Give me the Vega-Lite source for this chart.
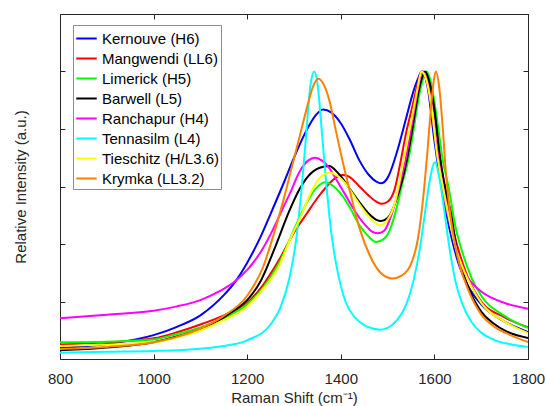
{
  "$schema": "https://vega.github.io/schema/vega-lite/v6.json",
  "width": 468,
  "height": 345,
  "autosize": "none",
  "padding": {"left": 60, "top": 14, "right": 18, "bottom": 47},
  "background": "white",
  "config": {
    "view": {"stroke": null},
    "font": "Liberation Sans",
    "axis": {
      "grid": false,
      "domainColor": "#262626",
      "tickColor": "#262626",
      "labelColor": "#262626",
      "titleColor": "#262626",
      "labelFont": "Liberation Sans",
      "titleFont": "Liberation Sans",
      "labelFontSize": 15,
      "titleFontSize": 15,
      "titleFontWeight": "normal",
      "tickSize": -5,
      "domainWidth": 1,
      "tickWidth": 1
    }
  },
  "data": {
    "values": [
      {"s": "Kernouve (H6)", "x": 800, "y": 0.038},
      {"s": "Kernouve (H6)", "x": 900, "y": 0.052},
      {"s": "Kernouve (H6)", "x": 1000, "y": 0.083},
      {"s": "Kernouve (H6)", "x": 1050, "y": 0.112},
      {"s": "Kernouve (H6)", "x": 1100, "y": 0.152},
      {"s": "Kernouve (H6)", "x": 1150, "y": 0.222},
      {"s": "Kernouve (H6)", "x": 1175, "y": 0.27},
      {"s": "Kernouve (H6)", "x": 1200, "y": 0.335},
      {"s": "Kernouve (H6)", "x": 1230, "y": 0.43},
      {"s": "Kernouve (H6)", "x": 1250, "y": 0.505},
      {"s": "Kernouve (H6)", "x": 1280, "y": 0.62},
      {"s": "Kernouve (H6)", "x": 1300, "y": 0.7},
      {"s": "Kernouve (H6)", "x": 1325, "y": 0.79},
      {"s": "Kernouve (H6)", "x": 1345, "y": 0.845},
      {"s": "Kernouve (H6)", "x": 1362, "y": 0.868},
      {"s": "Kernouve (H6)", "x": 1380, "y": 0.857},
      {"s": "Kernouve (H6)", "x": 1400, "y": 0.82},
      {"s": "Kernouve (H6)", "x": 1420, "y": 0.76},
      {"s": "Kernouve (H6)", "x": 1440, "y": 0.69},
      {"s": "Kernouve (H6)", "x": 1460, "y": 0.64},
      {"s": "Kernouve (H6)", "x": 1475, "y": 0.618},
      {"s": "Kernouve (H6)", "x": 1486, "y": 0.611},
      {"s": "Kernouve (H6)", "x": 1500, "y": 0.63},
      {"s": "Kernouve (H6)", "x": 1520, "y": 0.72},
      {"s": "Kernouve (H6)", "x": 1540, "y": 0.84},
      {"s": "Kernouve (H6)", "x": 1555, "y": 0.93},
      {"s": "Kernouve (H6)", "x": 1565, "y": 0.975},
      {"s": "Kernouve (H6)", "x": 1573, "y": 1.0},
      {"s": "Kernouve (H6)", "x": 1585, "y": 0.95},
      {"s": "Kernouve (H6)", "x": 1600, "y": 0.76},
      {"s": "Kernouve (H6)", "x": 1615, "y": 0.6},
      {"s": "Kernouve (H6)", "x": 1630, "y": 0.47},
      {"s": "Kernouve (H6)", "x": 1650, "y": 0.34},
      {"s": "Kernouve (H6)", "x": 1670, "y": 0.26},
      {"s": "Kernouve (H6)", "x": 1700, "y": 0.19},
      {"s": "Kernouve (H6)", "x": 1750, "y": 0.13},
      {"s": "Kernouve (H6)", "x": 1800, "y": 0.094},

      {"s": "Mangwendi (LL6)", "x": 800, "y": 0.05},
      {"s": "Mangwendi (LL6)", "x": 900, "y": 0.058},
      {"s": "Mangwendi (LL6)", "x": 1000, "y": 0.072},
      {"s": "Mangwendi (LL6)", "x": 1050, "y": 0.093},
      {"s": "Mangwendi (LL6)", "x": 1100, "y": 0.12},
      {"s": "Mangwendi (LL6)", "x": 1150, "y": 0.152},
      {"s": "Mangwendi (LL6)", "x": 1200, "y": 0.195},
      {"s": "Mangwendi (LL6)", "x": 1235, "y": 0.26},
      {"s": "Mangwendi (LL6)", "x": 1270, "y": 0.35},
      {"s": "Mangwendi (LL6)", "x": 1300, "y": 0.44},
      {"s": "Mangwendi (LL6)", "x": 1327, "y": 0.505},
      {"s": "Mangwendi (LL6)", "x": 1350, "y": 0.56},
      {"s": "Mangwendi (LL6)", "x": 1370, "y": 0.6},
      {"s": "Mangwendi (LL6)", "x": 1385, "y": 0.625},
      {"s": "Mangwendi (LL6)", "x": 1405, "y": 0.64},
      {"s": "Mangwendi (LL6)", "x": 1420, "y": 0.632},
      {"s": "Mangwendi (LL6)", "x": 1440, "y": 0.6},
      {"s": "Mangwendi (LL6)", "x": 1460, "y": 0.568},
      {"s": "Mangwendi (LL6)", "x": 1475, "y": 0.548},
      {"s": "Mangwendi (LL6)", "x": 1487, "y": 0.54},
      {"s": "Mangwendi (LL6)", "x": 1500, "y": 0.547},
      {"s": "Mangwendi (LL6)", "x": 1515, "y": 0.59},
      {"s": "Mangwendi (LL6)", "x": 1527, "y": 0.68},
      {"s": "Mangwendi (LL6)", "x": 1540, "y": 0.79},
      {"s": "Mangwendi (LL6)", "x": 1551, "y": 0.865},
      {"s": "Mangwendi (LL6)", "x": 1560, "y": 0.93},
      {"s": "Mangwendi (LL6)", "x": 1568, "y": 0.98},
      {"s": "Mangwendi (LL6)", "x": 1576, "y": 1.0},
      {"s": "Mangwendi (LL6)", "x": 1588, "y": 0.96},
      {"s": "Mangwendi (LL6)", "x": 1600, "y": 0.86},
      {"s": "Mangwendi (LL6)", "x": 1612, "y": 0.7},
      {"s": "Mangwendi (LL6)", "x": 1625, "y": 0.57},
      {"s": "Mangwendi (LL6)", "x": 1640, "y": 0.45},
      {"s": "Mangwendi (LL6)", "x": 1655, "y": 0.36},
      {"s": "Mangwendi (LL6)", "x": 1670, "y": 0.29},
      {"s": "Mangwendi (LL6)", "x": 1700, "y": 0.2},
      {"s": "Mangwendi (LL6)", "x": 1750, "y": 0.145},
      {"s": "Mangwendi (LL6)", "x": 1800, "y": 0.11},

      {"s": "Limerick (H5)", "x": 800, "y": 0.058},
      {"s": "Limerick (H5)", "x": 900, "y": 0.06},
      {"s": "Limerick (H5)", "x": 1000, "y": 0.068},
      {"s": "Limerick (H5)", "x": 1050, "y": 0.087},
      {"s": "Limerick (H5)", "x": 1100, "y": 0.11},
      {"s": "Limerick (H5)", "x": 1150, "y": 0.142},
      {"s": "Limerick (H5)", "x": 1200, "y": 0.19},
      {"s": "Limerick (H5)", "x": 1235, "y": 0.25},
      {"s": "Limerick (H5)", "x": 1270, "y": 0.34},
      {"s": "Limerick (H5)", "x": 1300, "y": 0.45},
      {"s": "Limerick (H5)", "x": 1320, "y": 0.52},
      {"s": "Limerick (H5)", "x": 1345, "y": 0.59},
      {"s": "Limerick (H5)", "x": 1366, "y": 0.615},
      {"s": "Limerick (H5)", "x": 1385, "y": 0.6},
      {"s": "Limerick (H5)", "x": 1400, "y": 0.575},
      {"s": "Limerick (H5)", "x": 1420, "y": 0.525},
      {"s": "Limerick (H5)", "x": 1440, "y": 0.465},
      {"s": "Limerick (H5)", "x": 1460, "y": 0.425},
      {"s": "Limerick (H5)", "x": 1475, "y": 0.407},
      {"s": "Limerick (H5)", "x": 1490, "y": 0.415},
      {"s": "Limerick (H5)", "x": 1505, "y": 0.45},
      {"s": "Limerick (H5)", "x": 1520, "y": 0.53},
      {"s": "Limerick (H5)", "x": 1533, "y": 0.62},
      {"s": "Limerick (H5)", "x": 1544, "y": 0.69},
      {"s": "Limerick (H5)", "x": 1555, "y": 0.79},
      {"s": "Limerick (H5)", "x": 1562, "y": 0.865},
      {"s": "Limerick (H5)", "x": 1572, "y": 0.95},
      {"s": "Limerick (H5)", "x": 1583, "y": 1.0},
      {"s": "Limerick (H5)", "x": 1593, "y": 0.96},
      {"s": "Limerick (H5)", "x": 1605, "y": 0.84},
      {"s": "Limerick (H5)", "x": 1618, "y": 0.69},
      {"s": "Limerick (H5)", "x": 1630, "y": 0.6},
      {"s": "Limerick (H5)", "x": 1645, "y": 0.46},
      {"s": "Limerick (H5)", "x": 1660, "y": 0.37},
      {"s": "Limerick (H5)", "x": 1680, "y": 0.28},
      {"s": "Limerick (H5)", "x": 1700, "y": 0.22},
      {"s": "Limerick (H5)", "x": 1750, "y": 0.15},
      {"s": "Limerick (H5)", "x": 1800, "y": 0.108},

      {"s": "Barwell (L5)", "x": 800, "y": 0.03},
      {"s": "Barwell (L5)", "x": 900, "y": 0.04},
      {"s": "Barwell (L5)", "x": 1000, "y": 0.058},
      {"s": "Barwell (L5)", "x": 1050, "y": 0.078},
      {"s": "Barwell (L5)", "x": 1100, "y": 0.105},
      {"s": "Barwell (L5)", "x": 1150, "y": 0.145},
      {"s": "Barwell (L5)", "x": 1175, "y": 0.172},
      {"s": "Barwell (L5)", "x": 1200, "y": 0.205},
      {"s": "Barwell (L5)", "x": 1230, "y": 0.275},
      {"s": "Barwell (L5)", "x": 1260, "y": 0.39},
      {"s": "Barwell (L5)", "x": 1290, "y": 0.515},
      {"s": "Barwell (L5)", "x": 1310, "y": 0.585},
      {"s": "Barwell (L5)", "x": 1330, "y": 0.635},
      {"s": "Barwell (L5)", "x": 1355, "y": 0.665},
      {"s": "Barwell (L5)", "x": 1375, "y": 0.671},
      {"s": "Barwell (L5)", "x": 1395, "y": 0.645},
      {"s": "Barwell (L5)", "x": 1420, "y": 0.59},
      {"s": "Barwell (L5)", "x": 1440, "y": 0.545},
      {"s": "Barwell (L5)", "x": 1460, "y": 0.505},
      {"s": "Barwell (L5)", "x": 1475, "y": 0.485},
      {"s": "Barwell (L5)", "x": 1486, "y": 0.48},
      {"s": "Barwell (L5)", "x": 1500, "y": 0.49},
      {"s": "Barwell (L5)", "x": 1520, "y": 0.56},
      {"s": "Barwell (L5)", "x": 1541, "y": 0.69},
      {"s": "Barwell (L5)", "x": 1555, "y": 0.82},
      {"s": "Barwell (L5)", "x": 1565, "y": 0.92},
      {"s": "Barwell (L5)", "x": 1574, "y": 0.98},
      {"s": "Barwell (L5)", "x": 1580, "y": 1.0},
      {"s": "Barwell (L5)", "x": 1590, "y": 0.96},
      {"s": "Barwell (L5)", "x": 1600, "y": 0.87},
      {"s": "Barwell (L5)", "x": 1612, "y": 0.7},
      {"s": "Barwell (L5)", "x": 1625, "y": 0.58},
      {"s": "Barwell (L5)", "x": 1635, "y": 0.51},
      {"s": "Barwell (L5)", "x": 1648, "y": 0.38},
      {"s": "Barwell (L5)", "x": 1670, "y": 0.26},
      {"s": "Barwell (L5)", "x": 1700, "y": 0.165},
      {"s": "Barwell (L5)", "x": 1725, "y": 0.125},
      {"s": "Barwell (L5)", "x": 1755, "y": 0.095},
      {"s": "Barwell (L5)", "x": 1800, "y": 0.073},

      {"s": "Ranchapur (H4)", "x": 800, "y": 0.142},
      {"s": "Ranchapur (H4)", "x": 900, "y": 0.154},
      {"s": "Ranchapur (H4)", "x": 1000, "y": 0.168},
      {"s": "Ranchapur (H4)", "x": 1050, "y": 0.183},
      {"s": "Ranchapur (H4)", "x": 1100, "y": 0.205},
      {"s": "Ranchapur (H4)", "x": 1140, "y": 0.235},
      {"s": "Ranchapur (H4)", "x": 1170, "y": 0.265},
      {"s": "Ranchapur (H4)", "x": 1200, "y": 0.31},
      {"s": "Ranchapur (H4)", "x": 1230, "y": 0.375},
      {"s": "Ranchapur (H4)", "x": 1255, "y": 0.45},
      {"s": "Ranchapur (H4)", "x": 1275, "y": 0.52},
      {"s": "Ranchapur (H4)", "x": 1291, "y": 0.575},
      {"s": "Ranchapur (H4)", "x": 1313, "y": 0.655},
      {"s": "Ranchapur (H4)", "x": 1330, "y": 0.69},
      {"s": "Ranchapur (H4)", "x": 1345, "y": 0.7},
      {"s": "Ranchapur (H4)", "x": 1360, "y": 0.69},
      {"s": "Ranchapur (H4)", "x": 1375, "y": 0.665},
      {"s": "Ranchapur (H4)", "x": 1390, "y": 0.625},
      {"s": "Ranchapur (H4)", "x": 1410, "y": 0.57},
      {"s": "Ranchapur (H4)", "x": 1430, "y": 0.515},
      {"s": "Ranchapur (H4)", "x": 1450, "y": 0.47},
      {"s": "Ranchapur (H4)", "x": 1465, "y": 0.445},
      {"s": "Ranchapur (H4)", "x": 1479, "y": 0.437},
      {"s": "Ranchapur (H4)", "x": 1492, "y": 0.445},
      {"s": "Ranchapur (H4)", "x": 1510, "y": 0.51},
      {"s": "Ranchapur (H4)", "x": 1525, "y": 0.6},
      {"s": "Ranchapur (H4)", "x": 1538, "y": 0.69},
      {"s": "Ranchapur (H4)", "x": 1557, "y": 0.865},
      {"s": "Ranchapur (H4)", "x": 1565, "y": 0.94},
      {"s": "Ranchapur (H4)", "x": 1574, "y": 1.0},
      {"s": "Ranchapur (H4)", "x": 1585, "y": 0.96},
      {"s": "Ranchapur (H4)", "x": 1598, "y": 0.82},
      {"s": "Ranchapur (H4)", "x": 1610, "y": 0.68},
      {"s": "Ranchapur (H4)", "x": 1625, "y": 0.53},
      {"s": "Ranchapur (H4)", "x": 1640, "y": 0.43},
      {"s": "Ranchapur (H4)", "x": 1655, "y": 0.335},
      {"s": "Ranchapur (H4)", "x": 1680, "y": 0.265},
      {"s": "Ranchapur (H4)", "x": 1700, "y": 0.235},
      {"s": "Ranchapur (H4)", "x": 1750, "y": 0.195},
      {"s": "Ranchapur (H4)", "x": 1800, "y": 0.175},

      {"s": "Tennasilm (L4)", "x": 800, "y": 0.022},
      {"s": "Tennasilm (L4)", "x": 900, "y": 0.025},
      {"s": "Tennasilm (L4)", "x": 1000, "y": 0.028},
      {"s": "Tennasilm (L4)", "x": 1100, "y": 0.036},
      {"s": "Tennasilm (L4)", "x": 1150, "y": 0.045},
      {"s": "Tennasilm (L4)", "x": 1200, "y": 0.065},
      {"s": "Tennasilm (L4)", "x": 1250, "y": 0.12},
      {"s": "Tennasilm (L4)", "x": 1270, "y": 0.175},
      {"s": "Tennasilm (L4)", "x": 1290, "y": 0.28},
      {"s": "Tennasilm (L4)", "x": 1305, "y": 0.42},
      {"s": "Tennasilm (L4)", "x": 1315, "y": 0.57},
      {"s": "Tennasilm (L4)", "x": 1325, "y": 0.76},
      {"s": "Tennasilm (L4)", "x": 1335, "y": 0.95},
      {"s": "Tennasilm (L4)", "x": 1343, "y": 1.0},
      {"s": "Tennasilm (L4)", "x": 1350, "y": 0.96},
      {"s": "Tennasilm (L4)", "x": 1360, "y": 0.78},
      {"s": "Tennasilm (L4)", "x": 1370, "y": 0.59},
      {"s": "Tennasilm (L4)", "x": 1380, "y": 0.435},
      {"s": "Tennasilm (L4)", "x": 1395, "y": 0.29},
      {"s": "Tennasilm (L4)", "x": 1410, "y": 0.2},
      {"s": "Tennasilm (L4)", "x": 1430, "y": 0.145},
      {"s": "Tennasilm (L4)", "x": 1450, "y": 0.118},
      {"s": "Tennasilm (L4)", "x": 1470, "y": 0.105},
      {"s": "Tennasilm (L4)", "x": 1485, "y": 0.102},
      {"s": "Tennasilm (L4)", "x": 1500, "y": 0.108},
      {"s": "Tennasilm (L4)", "x": 1520, "y": 0.135},
      {"s": "Tennasilm (L4)", "x": 1540, "y": 0.19},
      {"s": "Tennasilm (L4)", "x": 1555, "y": 0.27},
      {"s": "Tennasilm (L4)", "x": 1570, "y": 0.395},
      {"s": "Tennasilm (L4)", "x": 1580, "y": 0.51},
      {"s": "Tennasilm (L4)", "x": 1590, "y": 0.62},
      {"s": "Tennasilm (L4)", "x": 1601, "y": 0.684},
      {"s": "Tennasilm (L4)", "x": 1610, "y": 0.635},
      {"s": "Tennasilm (L4)", "x": 1620, "y": 0.53},
      {"s": "Tennasilm (L4)", "x": 1630, "y": 0.41},
      {"s": "Tennasilm (L4)", "x": 1645, "y": 0.27},
      {"s": "Tennasilm (L4)", "x": 1660, "y": 0.19},
      {"s": "Tennasilm (L4)", "x": 1680, "y": 0.127},
      {"s": "Tennasilm (L4)", "x": 1700, "y": 0.092},
      {"s": "Tennasilm (L4)", "x": 1730, "y": 0.065},
      {"s": "Tennasilm (L4)", "x": 1760, "y": 0.052},
      {"s": "Tennasilm (L4)", "x": 1800, "y": 0.042},

      {"s": "Tieschitz (H/L3.6)", "x": 800, "y": 0.045},
      {"s": "Tieschitz (H/L3.6)", "x": 900, "y": 0.05},
      {"s": "Tieschitz (H/L3.6)", "x": 1000, "y": 0.058},
      {"s": "Tieschitz (H/L3.6)", "x": 1050, "y": 0.075},
      {"s": "Tieschitz (H/L3.6)", "x": 1100, "y": 0.099},
      {"s": "Tieschitz (H/L3.6)", "x": 1150, "y": 0.135},
      {"s": "Tieschitz (H/L3.6)", "x": 1200, "y": 0.183},
      {"s": "Tieschitz (H/L3.6)", "x": 1235, "y": 0.245},
      {"s": "Tieschitz (H/L3.6)", "x": 1270, "y": 0.33},
      {"s": "Tieschitz (H/L3.6)", "x": 1290, "y": 0.41},
      {"s": "Tieschitz (H/L3.6)", "x": 1313, "y": 0.49},
      {"s": "Tieschitz (H/L3.6)", "x": 1335, "y": 0.575},
      {"s": "Tieschitz (H/L3.6)", "x": 1355, "y": 0.63},
      {"s": "Tieschitz (H/L3.6)", "x": 1377, "y": 0.648},
      {"s": "Tieschitz (H/L3.6)", "x": 1395, "y": 0.635},
      {"s": "Tieschitz (H/L3.6)", "x": 1415, "y": 0.6},
      {"s": "Tieschitz (H/L3.6)", "x": 1435, "y": 0.55},
      {"s": "Tieschitz (H/L3.6)", "x": 1455, "y": 0.505},
      {"s": "Tieschitz (H/L3.6)", "x": 1472, "y": 0.475},
      {"s": "Tieschitz (H/L3.6)", "x": 1484, "y": 0.466},
      {"s": "Tieschitz (H/L3.6)", "x": 1498, "y": 0.48},
      {"s": "Tieschitz (H/L3.6)", "x": 1515, "y": 0.54},
      {"s": "Tieschitz (H/L3.6)", "x": 1534, "y": 0.69},
      {"s": "Tieschitz (H/L3.6)", "x": 1555, "y": 0.865},
      {"s": "Tieschitz (H/L3.6)", "x": 1565, "y": 0.95},
      {"s": "Tieschitz (H/L3.6)", "x": 1572, "y": 1.0},
      {"s": "Tieschitz (H/L3.6)", "x": 1583, "y": 0.97},
      {"s": "Tieschitz (H/L3.6)", "x": 1595, "y": 0.86},
      {"s": "Tieschitz (H/L3.6)", "x": 1605, "y": 0.72},
      {"s": "Tieschitz (H/L3.6)", "x": 1618, "y": 0.6},
      {"s": "Tieschitz (H/L3.6)", "x": 1630, "y": 0.5},
      {"s": "Tieschitz (H/L3.6)", "x": 1645, "y": 0.39},
      {"s": "Tieschitz (H/L3.6)", "x": 1660, "y": 0.32},
      {"s": "Tieschitz (H/L3.6)", "x": 1680, "y": 0.25},
      {"s": "Tieschitz (H/L3.6)", "x": 1700, "y": 0.195},
      {"s": "Tieschitz (H/L3.6)", "x": 1750, "y": 0.13},
      {"s": "Tieschitz (H/L3.6)", "x": 1800, "y": 0.09},

      {"s": "Krymka (LL3.2)", "x": 800, "y": 0.035},
      {"s": "Krymka (LL3.2)", "x": 900, "y": 0.042},
      {"s": "Krymka (LL3.2)", "x": 1000, "y": 0.058},
      {"s": "Krymka (LL3.2)", "x": 1050, "y": 0.077},
      {"s": "Krymka (LL3.2)", "x": 1100, "y": 0.106},
      {"s": "Krymka (LL3.2)", "x": 1150, "y": 0.15},
      {"s": "Krymka (LL3.2)", "x": 1200, "y": 0.22},
      {"s": "Krymka (LL3.2)", "x": 1234, "y": 0.32},
      {"s": "Krymka (LL3.2)", "x": 1256, "y": 0.43},
      {"s": "Krymka (LL3.2)", "x": 1277, "y": 0.55},
      {"s": "Krymka (LL3.2)", "x": 1295, "y": 0.665},
      {"s": "Krymka (LL3.2)", "x": 1313, "y": 0.78},
      {"s": "Krymka (LL3.2)", "x": 1327, "y": 0.87},
      {"s": "Krymka (LL3.2)", "x": 1340, "y": 0.945},
      {"s": "Krymka (LL3.2)", "x": 1352, "y": 0.975},
      {"s": "Krymka (LL3.2)", "x": 1365, "y": 0.95},
      {"s": "Krymka (LL3.2)", "x": 1377, "y": 0.89},
      {"s": "Krymka (LL3.2)", "x": 1390, "y": 0.79},
      {"s": "Krymka (LL3.2)", "x": 1405, "y": 0.68},
      {"s": "Krymka (LL3.2)", "x": 1420, "y": 0.58},
      {"s": "Krymka (LL3.2)", "x": 1441, "y": 0.45},
      {"s": "Krymka (LL3.2)", "x": 1462, "y": 0.36},
      {"s": "Krymka (LL3.2)", "x": 1485, "y": 0.3},
      {"s": "Krymka (LL3.2)", "x": 1510, "y": 0.28},
      {"s": "Krymka (LL3.2)", "x": 1530, "y": 0.29},
      {"s": "Krymka (LL3.2)", "x": 1550, "y": 0.33},
      {"s": "Krymka (LL3.2)", "x": 1565, "y": 0.42},
      {"s": "Krymka (LL3.2)", "x": 1576, "y": 0.56},
      {"s": "Krymka (LL3.2)", "x": 1585, "y": 0.72},
      {"s": "Krymka (LL3.2)", "x": 1593, "y": 0.88},
      {"s": "Krymka (LL3.2)", "x": 1598, "y": 0.96},
      {"s": "Krymka (LL3.2)", "x": 1603, "y": 1.0},
      {"s": "Krymka (LL3.2)", "x": 1610, "y": 0.95},
      {"s": "Krymka (LL3.2)", "x": 1618, "y": 0.8},
      {"s": "Krymka (LL3.2)", "x": 1625, "y": 0.64},
      {"s": "Krymka (LL3.2)", "x": 1635, "y": 0.49},
      {"s": "Krymka (LL3.2)", "x": 1645, "y": 0.39},
      {"s": "Krymka (LL3.2)", "x": 1655, "y": 0.32},
      {"s": "Krymka (LL3.2)", "x": 1670, "y": 0.25},
      {"s": "Krymka (LL3.2)", "x": 1700, "y": 0.155},
      {"s": "Krymka (LL3.2)", "x": 1730, "y": 0.11},
      {"s": "Krymka (LL3.2)", "x": 1760, "y": 0.085},
      {"s": "Krymka (LL3.2)", "x": 1800, "y": 0.059}
    ]
  },
  "layer": [
    {
      "mark": {"type": "line", "interpolate": "monotone", "strokeWidth": 2, "clip": true},
      "encoding": {
        "x": {
          "field": "x", "type": "quantitative",
          "scale": {"domain": [800, 1800], "nice": false, "zero": false},
          "axis": {
            "orient": "bottom",
            "values": [800, 1000, 1200, 1400, 1600, 1800],
            "format": "d",
            "labelFlush": false,
            "labelOverlap": false,
            "labelPadding": 17,
            "titlePadding": 4,
            "title": "Raman Shift (cm⁻¹)"
          }
        },
        "y": {
          "field": "y", "type": "quantitative",
          "scale": {"domain": [0, 1.2], "nice": false, "zero": false},
          "axis": {
            "orient": "left",
            "values": [0, 0.2, 0.4, 0.6, 0.8, 1.0, 1.2],
            "labels": false,
            "titlePadding": 31,
            "title": "Relative Intensity (a.u.)"
          }
        },
        "color": {
          "field": "s", "type": "nominal",
          "scale": {
            "domain": ["Kernouve (H6)", "Mangwendi (LL6)", "Limerick (H5)", "Barwell (L5)", "Ranchapur (H4)", "Tennasilm (L4)", "Tieschitz (H/L3.6)", "Krymka (LL3.2)"],
            "range": ["#0000ff", "#ff0000", "#00ff00", "#000000", "#ff00ff", "#00ffff", "#ffff00", "#ff8000"]
          },
          "legend": {
            "orient": "none",
            "legendX": 13,
            "legendY": 11,
            "title": null,
            "fillColor": "white",
            "strokeColor": "#8c8c8c",
            "padding": 2,
            "rowPadding": 0,
            "symbolType": "stroke",
            "symbolSize": 420,
            "symbolStrokeWidth": 2,
            "labelOffset": 4,
            "labelFontSize": 15,
            "labelFont": "Liberation Sans",
            "labelColor": "#000000",
            "labelLimit": 300
          }
        }
      }
    },
    {
      "mark": {"type": "line", "opacity": 0},
      "encoding": {
        "x": {
          "field": "x", "type": "quantitative",
          "axis": {"orient": "top", "values": [800, 1000, 1200, 1400, 1600, 1800], "labels": false, "title": null}
        },
        "y": {
          "field": "y", "type": "quantitative",
          "axis": {"orient": "right", "values": [0, 0.2, 0.4, 0.6, 0.8, 1.0, 1.2], "labels": false, "title": null}
        },
        "detail": {"field": "s"}
      }
    }
  ],
  "resolve": {"axis": {"x": "independent", "y": "independent"}}
}
